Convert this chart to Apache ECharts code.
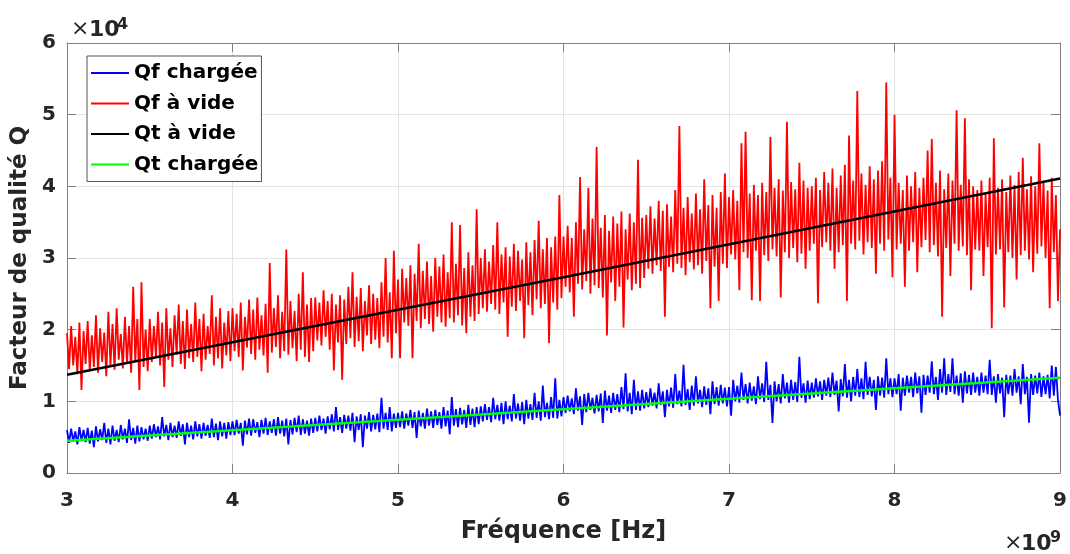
<!DOCTYPE html>
<html><head><meta charset="utf-8">
<script src="https://cdn.jsdelivr.net/npm/echarts@6/dist/echarts.min.js"></script>
<style>html,body{margin:0;padding:0;background:#fff}#c{width:1070px;height:554px}</style>
</head><body><div id="c"></div>
<script>
// Frequency sweep (x 10^9 Hz): start and step of the measured samples
const freqStart = 3;
const freqStep = 0.0125;

// Qf chargée (x 10^4)
const qfCharged = [
.60,.42,.62,.44,.58,.40,.64,.45,.60,.43,.63,.41,.59,.36,.65,.44,.61,.46,.70,.42,.62,.40,.66,.45,.60,.43,.67,.47,.62,.42,.75,.46,.63,.41,.66,.44,.64,.47,.62,.45,
.66,.48,.68,.50,.65,.47,.78,.51,.67,.46,.70,.50,.66,.49,.72,.52,.68,.40,.70,.50,.66,.47,.72,.51,.68,.48,.70,.52,.67,.49,.76,.50,.69,.46,.72,.51,.70,.48,.71,.53,
.72,.53,.74,.55,.70,.38,.73,.54,.76,.52,.75,.56,.71,.50,.74,.55,.77,.53,.72,.56,.75,.52,.78,.55,.73,.51,.76,.40,.74,.54,.77,.57,.80,.53,.75,.55,.73,.52,.76,.56,
.77,.58,.80,.60,.76,.55,.79,.61,.82,.58,.92,.60,.78,.56,.81,.62,.80,.59,.84,.43,.79,.60,.82,.36,.80,.62,.85,.58,.81,.61,.83,.57,1.05,.62,.84,.60,.92,.58,.83,.63,
.84,.64,.86,.62,.83,.66,.88,.63,.85,.49,.87,.65,.84,.62,.90,.66,.86,.63,.88,.67,.85,.62,.92,.65,.87,.54,1.06,.66,.89,.64,.91,.68,.88,.63,.95,.67,.90,.64,.92,.68,
.93,.72,.96,.74,.92,.71,1.05,.75,.95,.73,.98,.68,1.00,.75,.94,.72,1.10,.76,.97,.73,.99,.68,1.02,.76,.96,.74,1.12,.77,1.00,.73,1.22,.78,.98,.75,1.06,.77,1.32,.76,1.02,.79,
1.06,.84,1.08,.86,1.04,.82,1.18,.87,1.07,.67,1.10,.85,1.12,.88,1.05,.83,1.09,.86,1.11,.70,1.15,.87,1.08,.84,1.12,.88,1.10,.85,1.20,.89,1.39,.86,1.12,.82,1.30,.88,1.14,.87,1.16,.90,
1.13,.92,1.18,.94,1.12,.90,1.25,.95,1.14,.78,1.16,.93,1.19,.91,1.38,.96,1.15,.93,1.51,.95,1.17,.88,1.22,.94,1.35,.97,1.16,.92,1.21,.95,1.18,.82,1.28,.96,1.20,.94,1.23,.97,1.19,.93,
1.20,.80,1.30,1.00,1.22,.98,1.40,1.02,1.24,.97,1.26,1.01,1.21,.96,1.35,1.03,1.25,.99,1.55,1.02,1.23,.70,1.28,1.00,1.24,.97,1.38,1.04,1.26,.98,1.30,1.02,1.27,.99,1.62,1.05,1.25,.98,1.29,1.03,
1.26,1.05,1.32,1.07,1.28,1.02,1.30,1.08,1.33,1.06,1.40,1.09,1.29,.86,1.31,1.07,1.52,1.05,1.30,1.00,1.34,1.08,1.45,1.06,1.32,1.03,1.55,1.09,1.34,1.07,1.30,.88,1.35,1.08,1.33,1.05,1.60,1.10,1.32,1.06,
1.32,1.10,1.38,.87,1.33,1.08,1.36,1.12,1.34,1.06,1.40,1.11,1.35,.84,1.37,1.09,1.36,1.12,1.56,1.10,1.34,1.02,1.45,1.12,1.60,1.09,1.38,1.13,1.60,1.10,1.36,1.08,1.39,.98,1.42,1.11,1.37,1.09,1.40,1.12,
1.34,1.08,1.40,1.12,1.36,1.10,1.58,1.09,1.35,.98,1.38,1.11,1.33,.78,1.37,1.10,1.36,1.08,1.45,1.12,1.35,.96,1.52,1.10,1.34,.70,1.38,1.09,1.36,1.11,1.40,1.06,1.35,1.10,1.37,1.04,1.50,1.08,1.48,1.02,
0.80
];

// Qf à vide (x 10^4)
const qfEmpty = [
1.95,1.45,2.05,1.50,1.90,1.38,2.10,1.16,1.98,1.52,2.12,1.42,1.92,1.48,2.20,1.40,2.02,1.55,1.96,1.35,2.25,1.50,2.08,1.44,2.30,1.58,1.94,1.46,2.18,1.52,2.05,1.40,2.60,1.55,2.15,1.16,2.66,1.48,2.00,1.42,
2.15,1.55,2.05,1.62,2.25,1.50,2.10,1.20,2.30,1.58,2.02,1.48,2.20,1.65,2.35,1.52,2.12,1.45,2.28,1.60,2.08,1.55,2.38,1.62,2.15,1.42,2.22,1.58,2.05,1.66,2.48,1.50,2.18,1.60,2.30,1.46,2.10,1.64,2.26,1.56,
2.30,1.70,2.22,1.62,2.38,1.43,2.18,1.75,2.42,1.66,2.28,1.58,2.45,1.72,2.20,1.64,2.36,1.40,2.93,1.68,2.30,1.76,2.48,1.60,2.25,1.70,3.12,1.65,2.40,1.74,2.26,1.56,2.50,1.72,2.80,1.62,2.35,1.55,2.44,1.70,
2.45,1.85,2.38,1.78,2.55,1.90,2.40,1.72,2.50,1.43,2.35,1.82,2.48,1.30,2.42,1.80,2.60,1.88,2.80,1.76,2.46,1.84,2.58,1.70,2.40,1.92,2.62,1.80,2.50,1.86,2.44,1.74,2.66,1.90,3.00,1.82,2.52,1.60,3.10,1.95,
2.70,1.60,2.85,2.10,2.72,2.05,2.90,1.60,2.78,2.12,3.20,2.02,2.82,2.15,2.95,2.08,2.75,1.97,3.00,2.18,2.88,2.10,3.05,2.04,2.80,2.16,3.50,2.10,2.92,2.20,3.46,2.06,2.86,1.95,3.08,2.18,2.90,2.12,3.68,2.22,
3.00,2.30,3.12,2.25,2.95,2.36,3.18,2.28,3.50,2.22,3.05,2.38,3.15,1.90,3.02,2.32,3.20,2.26,3.10,2.40,2.98,1.88,3.22,2.34,3.08,2.20,3.25,2.42,3.52,2.30,3.12,2.36,3.28,1.81,3.15,2.38,3.30,2.28,3.88,2.44,
3.30,2.60,3.45,2.52,3.28,2.18,3.50,2.64,4.13,2.56,3.40,2.68,3.98,2.50,3.55,2.62,4.55,2.58,3.42,2.45,3.60,1.92,3.38,2.66,3.58,2.40,3.48,2.60,3.65,2.03,3.40,2.70,3.62,2.55,3.50,2.64,4.37,2.58,3.56,2.72,
3.60,2.85,3.72,2.78,3.55,2.90,3.80,2.82,3.66,2.18,3.75,2.88,3.58,2.80,3.95,2.92,4.84,2.86,3.70,2.76,3.85,2.94,3.62,2.84,3.90,2.90,3.68,2.78,4.10,2.96,3.74,2.30,3.88,2.88,3.70,2.40,3.92,2.92,4.18,2.86,
3.85,3.05,3.95,2.98,3.80,2.55,4.60,3.08,4.76,3.00,3.90,2.41,4.02,3.10,3.88,2.40,4.05,3.04,3.92,2.96,4.69,3.12,3.98,3.02,4.10,2.45,3.94,3.08,4.90,3.00,4.06,3.14,3.96,2.94,4.33,3.06,4.08,2.85,3.98,3.10,
4.00,3.20,4.12,2.37,3.95,3.15,4.20,3.22,4.05,3.10,4.25,2.85,3.98,3.08,4.15,3.18,4.30,2.40,4.71,3.20,4.08,3.12,5.33,3.24,4.18,3.05,4.02,3.22,4.28,3.14,4.10,2.78,4.22,3.20,4.35,3.10,5.45,3.26,4.12,2.73,
5.00,3.12,4.05,3.20,3.95,2.60,4.15,3.10,4.00,3.22,4.20,2.80,3.98,3.15,4.12,3.25,4.50,3.08,4.66,3.18,4.05,3.02,4.22,2.18,3.96,3.14,4.18,2.75,4.08,3.20,5.06,3.10,4.02,3.16,4.95,3.04,4.10,2.55,4.00,3.12,
3.95,3.10,4.08,2.75,3.90,3.15,4.12,2.02,4.67,3.05,3.98,3.12,4.10,2.31,3.92,3.08,4.15,3.00,4.02,2.70,4.20,3.04,4.40,3.10,3.96,2.98,4.14,2.80,4.00,3.06,4.60,3.16,4.06,3.00,3.94,2.30,4.12,3.08,3.88,2.40,
3.40
];

// Qt à vide (theoretical, x 10^4) at the read frequencies
const qtEmptyFreq = [3, 6, 9];
const qtEmpty = [1.37, 2.73, 4.11];

// Qt chargée (theoretical, x 10^4)
const qtChargedFreq = [3, 6, 9];
const qtCharged = [0.45, 0.89, 1.33];

const seriesNames = ['Qf chargée', 'Qf à vide', 'Qt à vide', 'Qt chargée'];
const xRange = [3, 9];
const yRange = [0, 6];

const FONT = 'DejaVu Sans';
const toPairs = (vals) => vals.map((v, i) => [freqStart + i * freqStep, v]);
const zipPairs = (xs, ys) => xs.map((x, i) => [x, ys[i]]);

const axisGray = '#808080';
const labelStyle = {fontFamily: FONT, fontWeight: 'bold', fontSize: 20, color: '#262626'};

const chart = echarts.init(document.getElementById('c'), null, {renderer: 'canvas'});
chart.setOption({
  animation: false,
  backgroundColor: '#fff',
  grid: {left: 67, right: 7, top: 43, bottom: 81, containLabel: false},
  xAxis: [{
    type: 'value', min: xRange[0], max: xRange[1], interval: 1, position: 'bottom',
    axisLine: {show: true, onZero: false, lineStyle: {color: axisGray, width: 1}},
    axisTick: {show: true, inside: true, length: 9, lineStyle: {color: axisGray}},
    axisLabel: Object.assign({margin: 18}, labelStyle),
    splitLine: {show: true, lineStyle: {color: '#e3e3e3', width: 1}},
    name: 'Fréquence [Hz]', nameLocation: 'middle', nameGap: 47,
    nameTextStyle: {fontFamily: FONT, fontWeight: 'bold', fontSize: 24, color: '#262626'}
  }, {
    type: 'value', min: xRange[0], max: xRange[1], interval: 1, position: 'top',
    axisLine: {show: true, onZero: false, lineStyle: {color: axisGray, width: 1}},
    axisTick: {show: true, inside: true, length: 9, lineStyle: {color: axisGray}},
    axisLabel: {show: false}, splitLine: {show: false}
  }],
  yAxis: [{
    type: 'value', min: yRange[0], max: yRange[1], interval: 1, position: 'left',
    axisLine: {show: true, onZero: false, lineStyle: {color: axisGray, width: 1}},
    axisTick: {show: true, inside: true, length: 9, lineStyle: {color: axisGray}},
    axisLabel: Object.assign({margin: 11}, labelStyle),
    splitLine: {show: true, lineStyle: {color: '#e3e3e3', width: 1}},
    name: 'Facteur de qualité Q', nameLocation: 'middle', nameGap: 33,
    nameTextStyle: {fontFamily: FONT, fontWeight: 'bold', fontSize: 23, color: '#262626'}
  }, {
    type: 'value', min: yRange[0], max: yRange[1], interval: 1, position: 'right',
    axisLine: {show: true, onZero: false, lineStyle: {color: axisGray, width: 1}},
    axisTick: {show: true, inside: true, length: 9, lineStyle: {color: axisGray}},
    axisLabel: {show: false}, splitLine: {show: false}
  }],
  legend: {
    orient: 'vertical', left: 87, top: 56,
    icon: 'rect', itemWidth: 38, itemHeight: 2, itemGap: 10.5,
    padding: [7, 3, 7, 4],
    backgroundColor: '#fff', borderColor: '#555', borderWidth: 1, borderRadius: 0,
    textStyle: {fontFamily: FONT, fontWeight: 'bold', fontSize: 20, color: '#000', lineHeight: 20},
    data: seriesNames
  },
  series: [
    {name: seriesNames[0], type: 'line', data: toPairs(qfCharged), symbol: 'none', showSymbol: false,
     lineStyle: {color: '#0000ff', width: 1.8}, itemStyle: {color: '#0000ff'}, z: 2},
    {name: seriesNames[1], type: 'line', data: toPairs(qfEmpty), symbol: 'none', showSymbol: false,
     lineStyle: {color: '#ff0000', width: 1.8}, itemStyle: {color: '#ff0000'}, z: 2},
    {name: seriesNames[2], type: 'line', data: zipPairs(qtEmptyFreq, qtEmpty), symbol: 'none', showSymbol: false,
     lineStyle: {color: '#000000', width: 2.5}, itemStyle: {color: '#000000'}, z: 3},
    {name: seriesNames[3], type: 'line', data: zipPairs(qtChargedFreq, qtCharged), symbol: 'none', showSymbol: false,
     lineStyle: {color: '#00ff00', width: 2.5}, itemStyle: {color: '#00ff00'}, z: 3}
  ],
  graphic: [
    {type: 'text', x: 71, y: 40, style: {text: '×', font: '22px "DejaVu Sans"', fill: '#262626', verticalAlign: 'bottom'}},
    {type: 'text', x: 89, y: 41, style: {text: '10', font: 'bold 22px "DejaVu Sans"', fill: '#262626', verticalAlign: 'bottom'}},
    {type: 'text', x: 117, y: 33, style: {text: '4', font: 'bold 16px "DejaVu Sans"', fill: '#262626', verticalAlign: 'bottom'}},
    {type: 'text', x: 1004, y: 554, style: {text: '×', font: '22px "DejaVu Sans"', fill: '#262626', verticalAlign: 'bottom'}},
    {type: 'text', x: 1021, y: 555, style: {text: '10', font: 'bold 22px "DejaVu Sans"', fill: '#262626', verticalAlign: 'bottom'}},
    {type: 'text', x: 1050, y: 546, style: {text: '9', font: 'bold 16px "DejaVu Sans"', fill: '#262626', verticalAlign: 'bottom'}}
  ]
});
</script></body></html>
